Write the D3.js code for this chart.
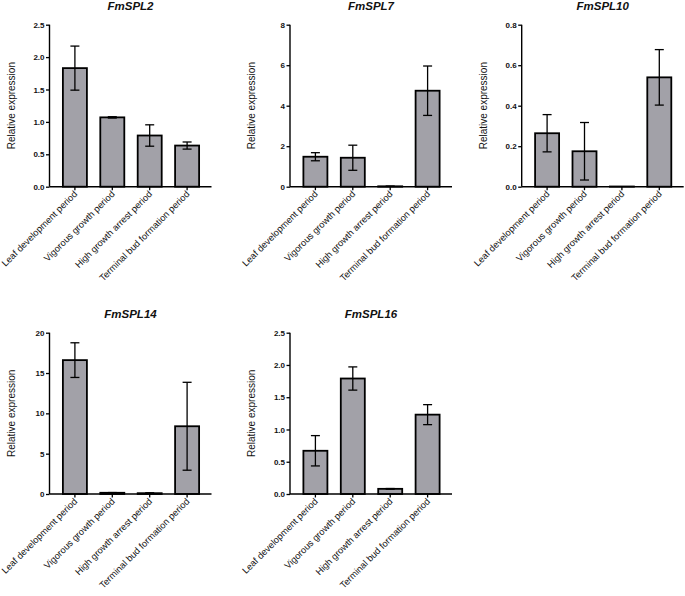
<!DOCTYPE html>
<html><head><meta charset="utf-8">
<script src="https://cdn.jsdelivr.net/npm/d3@7"></script>
<style>body{margin:0;background:#fff}svg{display:block}text{font-family:Arial,"Liberation Sans",sans-serif}</style>
</head><body><svg id="c" width="685" height="596"></svg>
<script>
const categories = ["Leaf development period","Vigorous growth period","High growth arrest period","Terminal bud formation period"];
const genes = ["FmSPL2","FmSPL7","FmSPL10","FmSPL14","FmSPL16"];
const spl2Mean = [1.83, 1.07, 0.79, 0.635];
const spl2Sd   = [0.34, 0.01, 0.165, 0.055];
const spl7Mean = [1.48, 1.43, 0.02, 4.74];
const spl7Sd   = [0.2, 0.62, 0.005, 1.22];
const spl10Mean = [0.264, 0.175, 0.001, 0.54];
const spl10Sd   = [0.092, 0.142, 0, 0.137];
const spl14Mean = [16.6, 0.15, 0.1, 8.4];
const spl14Sd   = [2.15, 0.03, 0.05, 5.45];
const spl16Mean = [0.67, 1.79, 0.08, 1.23];
const spl16Sd   = [0.235, 0.18, 0.005, 0.155];
const yMax = [2.5, 8, 0.8, 20, 2.5];
const yStep = [0.5, 2, 0.2, 5, 0.5];
const yFmt = [".1f", "d", ".1f", "d", ".1f"];

const means = [spl2Mean, spl7Mean, spl10Mean, spl14Mean, spl16Mean];
const sds = [spl2Sd, spl7Sd, spl10Sd, spl14Sd, spl16Sd];
const layout = [
  {x:49.5, top:24.7, bottom:186.7},
  {x:290, top:24.7, bottom:186.7},
  {x:521.7, top:24.7, bottom:186.7},
  {x:49.5, top:332.7, bottom:494},
  {x:290, top:332.7, bottom:494}
];
const W = 162;
const svg = d3.select("#c");
const fill = "#a2a1a8";

genes.forEach((g, gi) => {
  const L = layout[gi];
  const gg = svg.append("g");
  const x = d3.scaleBand().domain(categories).range([L.x+6.7, L.x+156.3]).paddingInner(0.358).paddingOuter(0.179);
  const y = d3.scaleLinear().domain([0, yMax[gi]]).range([L.bottom, L.top]);
  const data = categories.map((c,i)=>({c, m: means[gi][i], s: sds[gi][i]}));

  // bars
  gg.selectAll("rect.bar").data(data).join("rect")
    .attr("x", d=>x(d.c)).attr("width", x.bandwidth())
    .attr("y", d=>y(d.m)).attr("height", d=>Math.max(0, y(0)-y(d.m)))
    .attr("fill", fill).attr("stroke", "#000").attr("stroke-width", 1.8);

  // error bars
  const eb = gg.selectAll("g.eb").data(data.filter(d=>d.s>0.0001)).join("g")
    .attr("stroke","#000").attr("stroke-width",1.3);
  eb.append("line").attr("x1", d=>x(d.c)+x.bandwidth()/2).attr("x2", d=>x(d.c)+x.bandwidth()/2)
    .attr("y1", d=>y(d.m+d.s)).attr("y2", d=>y(Math.max(0,d.m-d.s)));
  eb.append("line").attr("x1", d=>x(d.c)+x.bandwidth()/2-4.5).attr("x2", d=>x(d.c)+x.bandwidth()/2+4.5)
    .attr("y1", d=>y(d.m+d.s)).attr("y2", d=>y(d.m+d.s));
  eb.append("line").attr("x1", d=>x(d.c)+x.bandwidth()/2-4.5).attr("x2", d=>x(d.c)+x.bandwidth()/2+4.5)
    .attr("y1", d=>y(Math.max(0,d.m-d.s))).attr("y2", d=>y(Math.max(0,d.m-d.s)));

  // y axis
  const ticks = d3.range(0, yMax[gi] + yStep[gi]/2, yStep[gi]);
  const ya = gg.append("g").attr("transform", `translate(${L.x},0)`)
    .call(d3.axisLeft(y).tickValues(ticks).tickFormat(d3.format(yFmt[gi])).tickSize(3.5).tickPadding(1.5));
  ya.select(".domain").attr("stroke","#000").attr("stroke-width",1.4).attr("d", `M0,${L.top}V${L.bottom}`);
  ya.selectAll(".tick line").attr("stroke","#000").attr("stroke-width",1.3);
  ya.selectAll(".tick text").attr("font-size", 8).attr("font-weight","bold").attr("fill","#111")
    .attr("font-family","Arial, 'Liberation Sans', sans-serif");

  // x axis
  const xa = gg.append("g").attr("transform", `translate(0,${L.bottom})`)
    .call(d3.axisBottom(x).tickSize(3.5).tickFormat(""));
  xa.select(".domain").attr("stroke","#000").attr("stroke-width",1.4).attr("d", `M${L.x},0H${L.x+W}`);
  xa.selectAll(".tick line").attr("stroke","#000").attr("stroke-width",1.3);
  gg.selectAll("text.cat").data(categories).join("text").attr("class","cat")
    .attr("transform", d=>`translate(${x(d)+x.bandwidth()/2+3},${L.bottom+8}) rotate(-45)`)
    .attr("text-anchor","end").attr("font-size", 9.3).attr("fill","#111").text(d=>d);

  // y label
  gg.append("text").attr("transform", `translate(${L.x-35},${(L.top+L.bottom)/2}) rotate(-90)`)
    .attr("text-anchor","middle").attr("font-size",10).attr("fill","#111").text("Relative expression");

  // title
  gg.append("text").attr("x", L.x+81).attr("y", L.top-14.5).attr("text-anchor","middle")
    .attr("font-size",11.5).attr("font-weight","bold").attr("font-style","italic").attr("fill","#111").text(g);
});
</script></body></html>
